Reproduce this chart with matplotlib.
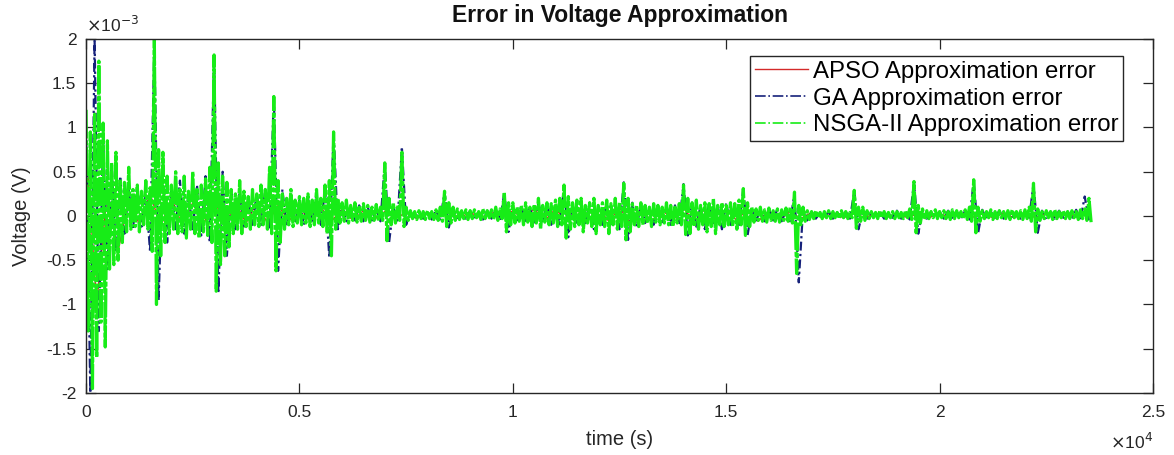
import numpy as np
import matplotlib
matplotlib.use("Agg")
import matplotlib.pyplot as plt
from matplotlib.lines import Line2D
from matplotlib.ticker import MultipleLocator, FixedLocator, FixedFormatter

plt.rcParams['font.family'] = ['Liberation Sans', 'DejaVu Sans']

# values, in units of 1e-3 V
# NSGA-II: upper peaks every 100 s (t = 0, 100, ...), lower peaks halfway between
nsga_step = 100
nsga_upper = [
    1.2, 0.95, 1.15, 1.75, 1.05, 0.85, 0.6, 0.72, 0.42, 0.38,
    0.55, 0.3, 0.35, 0.28, 0.4, 0.32, 2.0, 0.75, 0.72, 0.45,
    0.35, 0.5, 0.3, 0.45, 0.28, 0.5, 0.3, 0.35, 0.42, 0.55,
    1.82, 0.6, 0.45, 0.38, 0.3, 0.25, 0.4, 0.28, 0.22, 0.3,
    0.25, 0.35, 0.3, 0.55, 1.35, 0.4, 0.25, 0.2, 0.3, 0.18,
    0.22, 0.2, 0.25, 0.18, 0.3, 0.2, 0.35, 0.4, 0.95, 0.2,
    0.15, 0.18, 0.12, 0.15, 0.1, 0.14, 0.12, 0.1, 0.13, 0.1,
    0.6, 0.2, 0.15, 0.12, 0.72, 0.1, 0.06, 0.05, 0.06, 0.05,
    0.06, 0.05, 0.07, 0.1, 0.28, 0.15, 0.1, 0.08, 0.06, 0.07,
    0.06, 0.07, 0.05, 0.08, 0.06, 0.07, 0.1, 0.08, 0.27, 0.15,
    0.15, 0.1, 0.12, 0.15, 0.1, 0.13, 0.2, 0.12, 0.15, 0.14,
    0.18, 0.2, 0.35, 0.22, 0.15, 0.18, 0.2, 0.12, 0.15, 0.2,
    0.12, 0.15, 0.18, 0.14, 0.2, 0.15, 0.37, 0.2, 0.14, 0.12,
    0.15, 0.12, 0.1, 0.14, 0.12, 0.1, 0.15, 0.12, 0.1, 0.14,
    0.35, 0.2, 0.15, 0.18, 0.12, 0.15, 0.14, 0.2, 0.12, 0.15,
    0.12, 0.15, 0.14, 0.18, 0.31, 0.15, 0.1, 0.08, 0.1, 0.07,
    0.09, 0.06, 0.08, 0.07, 0.09, 0.1, 0.27, 0.12, 0.1, 0.06,
    0.05, 0.06, 0.04, 0.05, 0.06, 0.05, 0.04, 0.06, 0.05, 0.04,
    0.29, 0.1, 0.1, 0.06, 0.05, 0.04, 0.06, 0.05, 0.04, 0.05,
    0.05, 0.04, 0.06, 0.08, 0.39, 0.12, 0.08, 0.06, 0.05, 0.07,
    0.05, 0.06, 0.05, 0.07, 0.06, 0.05, 0.07, 0.1, 0.41, 0.1,
    0.06, 0.05, 0.07, 0.05, 0.06, 0.05, 0.06, 0.07, 0.05, 0.06,
    0.07, 0.1, 0.37, 0.08, 0.05, 0.06, 0.05, 0.07, 0.05, 0.06,
    0.05, 0.06, 0.05, 0.07, 0.08, 0.2]
nsga_lower = [
    -1.3, -1.95, -1.6, -1.2, -1.48, -0.6, -0.55, -0.5, -0.3, -0.18,
    -0.15, -0.12, -0.18, -0.1, -0.15, -0.4, -1.0, -0.45, -0.3, -0.2,
    -0.15, -0.2, -0.18, -0.25, -0.15, -0.2, -0.25, -0.18, -0.22, -0.3,
    -0.85, -0.55, -0.45, -0.35, -0.2, -0.15, -0.2, -0.12, -0.15, -0.1,
    -0.12, -0.1, -0.15, -0.2, -0.62, -0.3, -0.15, -0.1, -0.12, -0.08,
    -0.1, -0.08, -0.12, -0.1, -0.08, -0.12, -0.2, -0.45, -0.15, -0.08,
    -0.06, -0.08, -0.05, -0.07, -0.06, -0.05, -0.07, -0.05, -0.06, -0.05,
    -0.28, -0.1, -0.08, -0.05, -0.12, -0.05, -0.03, -0.04, -0.03, -0.04,
    -0.03, -0.04, -0.05, -0.06, -0.12, -0.08, -0.05, -0.04, -0.03, -0.04,
    -0.03, -0.02, -0.04, -0.03, -0.02, -0.04, -0.05, -0.03, -0.18, -0.1,
    -0.08, -0.06, -0.1, -0.07, -0.12, -0.08, -0.15, -0.07, -0.1, -0.08,
    -0.12, -0.1, -0.25, -0.15, -0.12, -0.1, -0.18, -0.08, -0.12, -0.2,
    -0.1, -0.12, -0.2, -0.1, -0.15, -0.12, -0.27, -0.18, -0.1, -0.12,
    -0.1, -0.08, -0.12, -0.07, -0.1, -0.08, -0.1, -0.12, -0.08, -0.1,
    -0.21, -0.2, -0.12, -0.15, -0.1, -0.18, -0.12, -0.2, -0.1, -0.12,
    -0.1, -0.12, -0.15, -0.1, -0.22, -0.12, -0.07, -0.05, -0.06, -0.07,
    -0.05, -0.06, -0.07, -0.05, -0.06, -0.08, -0.65, -0.1, -0.06, -0.04,
    -0.03, -0.02, -0.03, -0.02, -0.03, -0.02, -0.03, -0.02, -0.03, -0.02,
    -0.14, -0.06, -0.05, -0.03, -0.02, -0.03, -0.02, -0.03, -0.02, -0.03,
    -0.02, -0.03, -0.02, -0.04, -0.19, -0.08, -0.04, -0.03, -0.02, -0.03,
    -0.02, -0.03, -0.04, -0.03, -0.02, -0.03, -0.04, -0.06, -0.19, -0.06,
    -0.03, -0.02, -0.04, -0.03, -0.02, -0.03, -0.04, -0.02, -0.03, -0.04,
    -0.03, -0.06, -0.18, -0.05, -0.03, -0.02, -0.04, -0.03, -0.02, -0.03,
    -0.03, -0.02, -0.04, -0.03, -0.05, -0.07]

# GA: peaks every 200 s
ga_step = 200
ga_upper = [
    1.0, 2.0, 0.9, 0.6, 0.45, 0.3, 0.35, 0.25, 1.95, 0.6,
    0.3, 0.4, 0.25, 0.35, 0.45, 1.8, 0.5, 0.3, 0.25, 0.2,
    0.25, 0.3, 1.35, 0.3, 0.2, 0.18, 0.2, 0.25, 0.3, 0.95,
    0.12, 0.1, 0.12, 0.1, 0.08, 0.6, 0.1, 0.78, 0.05, 0.04,
    0.05, 0.06, 0.27, 0.08, 0.05, 0.06, 0.04, 0.06, 0.07, 0.26,
    0.1, 0.12, 0.1, 0.15, 0.12, 0.12, 0.33, 0.15, 0.12, 0.15,
    0.12, 0.15, 0.12, 0.38, 0.15, 0.12, 0.1, 0.12, 0.1, 0.12,
    0.36, 0.15, 0.12, 0.15, 0.12, 0.15, 0.12, 0.3, 0.08, 0.06,
    0.07, 0.08, 0.06, 0.26, 0.08, 0.05, 0.04, 0.05, 0.04, 0.05,
    0.28, 0.06, 0.04, 0.05, 0.04, 0.06, 0.05, 0.38, 0.06, 0.05,
    0.05, 0.06, 0.05, 0.06, 0.4, 0.07, 0.05, 0.06, 0.05, 0.04,
    0.05, 0.36, 0.06, 0.05, 0.06, 0.05, 0.07, 0.22]
ga_lower = [
    -2.0, -1.3, -0.6, -0.4, -0.2, -0.15, -0.12, -0.4, -0.95, -0.3,
    -0.15, -0.2, -0.15, -0.22, -0.3, -0.87, -0.45, -0.15, -0.12, -0.1,
    -0.1, -0.15, -0.62, -0.12, -0.08, -0.1, -0.08, -0.1, -0.47, -0.15,
    -0.06, -0.05, -0.06, -0.05, -0.06, -0.3, -0.05, -0.1, -0.03, -0.03,
    -0.04, -0.05, -0.13, -0.04, -0.03, -0.03, -0.04, -0.03, -0.05, -0.18,
    -0.06, -0.08, -0.1, -0.06, -0.1, -0.12, -0.24, -0.1, -0.08, -0.15,
    -0.1, -0.12, -0.15, -0.27, -0.12, -0.08, -0.1, -0.07, -0.1, -0.08,
    -0.22, -0.12, -0.15, -0.1, -0.15, -0.1, -0.1, -0.22, -0.05, -0.06,
    -0.05, -0.06, -0.07, -0.75, -0.05, -0.03, -0.02, -0.03, -0.02, -0.03,
    -0.15, -0.03, -0.02, -0.03, -0.02, -0.03, -0.04, -0.2, -0.03, -0.02,
    -0.03, -0.02, -0.03, -0.04, -0.2, -0.04, -0.02, -0.03, -0.02, -0.03,
    -0.02, -0.19, -0.04, -0.03, -0.02, -0.03, -0.04, -0.05]

# APSO: peaks every 500 s (mostly hidden under the others)
apso_step = 500
apso_upper = [
    0.8, 0.3, 0.2, 0.25, 0.2, 0.15, 0.2, 0.15, 0.15, 0.12,
    0.1, 0.1, 0.08, 0.06, 0.05, 0.04, 0.04, 0.05, 0.04, 0.04,
    0.06, 0.08, 0.08, 0.07, 0.08, 0.09, 0.08, 0.07, 0.09, 0.08,
    0.07, 0.08, 0.06, 0.05, 0.04, 0.03, 0.03, 0.03, 0.03, 0.03,
    0.03, 0.03, 0.03, 0.03, 0.03, 0.03, 0.03]
apso_lower = [
    -1.0, -0.4, -0.1, -0.12, -0.1, -0.1, -0.12, -0.08, -0.08, -0.06,
    -0.06, -0.06, -0.05, -0.04, -0.03, -0.03, -0.02, -0.02, -0.02, -0.02,
    -0.04, -0.05, -0.06, -0.05, -0.06, -0.07, -0.06, -0.05, -0.07, -0.06,
    -0.05, -0.06, -0.04, -0.03, -0.02, -0.02, -0.02, -0.02, -0.02, -0.02,
    -0.02, -0.02, -0.02, -0.02, -0.02, -0.02, -0.02]

labels = ['APSO Approximation error', 'GA Approximation error',
          'NSGA-II Approximation error']
x_ticks = [0, 5000, 10000, 15000, 20000, 25000]
x_tick_labels = ['0', '0.5', '1', '1.5', '2', '2.5']

c_apso = '#d42a2a'
c_ga = '#16217a'
c_nsga = '#17ec17'


def zigzag(upper, lower, step):
    # interleave upper and lower peaks so the trace swings between them
    n = len(upper)
    t = np.empty(2 * n)
    v = np.empty(2 * n)
    t[0::2] = np.arange(n) * step
    t[1::2] = np.arange(n) * step + step / 2
    v[0::2] = upper
    v[1::2] = lower
    return t, v


fig = plt.figure(figsize=(11.74, 4.55), dpi=100)
ax = fig.add_axes([0.0733, 0.1363, 0.9088, 0.778])

t_r, v_r = zigzag(apso_upper, apso_lower, apso_step)
t_b, v_b = zigzag(ga_upper, ga_lower, ga_step)
t_g, v_g = zigzag(nsga_upper, nsga_lower, nsga_step)

ax.plot(t_r, v_r, '-', color=c_apso, lw=1.0)
ax.plot(t_b, v_b, color=c_ga, lw=1.6, dashes=(4, 1.5, 1, 1.5))
ax.plot(t_g, v_g, color=c_nsga, lw=2.3, dashes=(9, 0.6, 1.5, 0.6))

ax.set_xlim(0, 25000)
ax.set_ylim(-2, 2)
ax.xaxis.set_major_locator(FixedLocator(x_ticks))
ax.xaxis.set_major_formatter(FixedFormatter(x_tick_labels))
ax.yaxis.set_major_locator(MultipleLocator(0.5))
ax.yaxis.set_major_formatter(plt.FuncFormatter(lambda v, p: '%g' % v))

ax.tick_params(direction='in', length=7, width=0.9, top=True, right=True,
               labelsize=12.5, colors='#262626')
ax.tick_params(axis='x', pad=9)
ax.tick_params(axis='y', pad=7)
for s in ax.spines.values():
    s.set_color('#262626')
    s.set_linewidth(1.0)

ax.set_title('Error in Voltage Approximation', fontsize=16.5,
             fontweight='bold', color='#111111', pad=12)
ax.set_xlabel('time (s)', fontsize=14.5, color='#262626', labelpad=7)
ax.set_ylabel('Voltage (V)', fontsize=14.5, color='#262626', labelpad=11)

ax.text(0.0, 1.012, r'$\times$10$^{-3}$', transform=ax.transAxes,
        fontsize=12.5, color='#262626', ha='left', va='bottom')
ax.text(1.0, -0.138, r'$\times$10$^{4}$', transform=ax.transAxes,
        fontsize=12.5, color='#262626', ha='right', va='center')

handles = [Line2D([], [], color=c_apso, lw=1.0, ls='-'),
           Line2D([], [], color=c_ga, lw=1.2, ls='-.'),
           Line2D([], [], color=c_nsga, lw=1.2, ls='-.')]
leg = ax.legend(handles, labels, loc='upper right',
                bbox_to_anchor=(0.972, 0.952),
                fontsize=17.3, frameon=True, fancybox=False,
                handlelength=2.2, handletextpad=0.2, labelspacing=0.2,
                borderpad=0.2, borderaxespad=0)
leg.get_frame().set_edgecolor('#262626')
leg.get_frame().set_linewidth(1.0)
leg.get_frame().set_alpha(1.0)

fig.savefig('out.png', dpi=100, facecolor='white')
